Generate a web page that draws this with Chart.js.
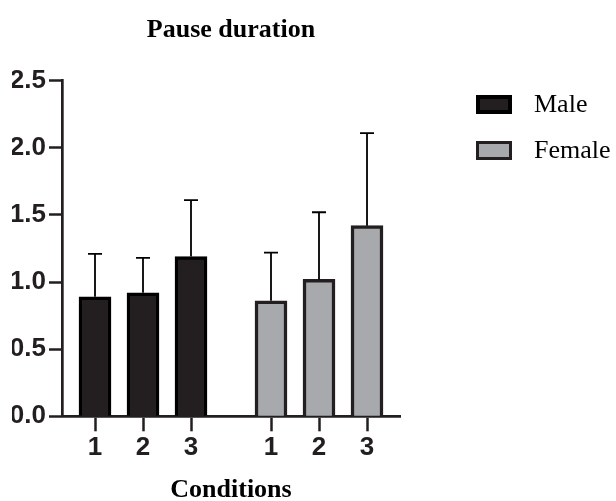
<!DOCTYPE html>
<html>
<head>
<meta charset="utf-8">
<script src="https://cdn.jsdelivr.net/npm/chart.js@4.4.1/dist/chart.umd.min.js"></script>
<style>
  body { margin: 0; background: #fff; }
  #wrap { position: relative; width: 616px; height: 501px; }
  #legend { position: absolute; left: 476px; top: 88px; font-family: "Liberation Serif", "Times New Roman", serif; font-size: 26px; color: #000; }
  .item { display: flex; align-items: center; height: 32px; margin-bottom: 14px; }
  .swatch { box-sizing: border-box; width: 36px; height: 19px; margin-right: 22px; }
</style>
</head>
<body>
<div id="wrap">
  <canvas id="chart" width="616" height="501"></canvas>
  <div id="legend"></div>
</div>
<script>
// values (mean and upper error of each bar)
const conditions = ["1", "2", "3"];
const groups = ["Male", "Female"];
const maleMeans = [0.89, 0.92, 1.19];
const maleSD = [0.32, 0.26, 0.42];
const femaleMeans = [0.86, 1.02, 1.42];
const femaleSD = [0.36, 0.50, 0.69];
const yTicks = [0, 0.5, 1, 1.5, 2, 2.5];

// layout of the two groups on the x axis (one unit per bar slot)
const groupStart = [1, 4 + 2 / 3];
const xMin = 0.3125;
const xMax = 7.354;

const axisFont = { family: "'Liberation Sans', Arial, sans-serif", size: 26, weight: "bold" };
const serifFont = "'Liberation Serif', 'Times New Roman', serif";

function toPoints(means, g) {
    return means.map((v, i) => ({ x: groupStart[g] + i, y: v }));
}

const tickPositions = [];
groupStart.forEach(s => conditions.forEach((c, i) => tickPositions.push(s + i)));

// upward-only error bars drawn from the bar tops
const errorBars = {
    id: "errorBars",
    afterDatasetsDraw(chart) {
        const ctx = chart.ctx;
        const yScale = chart.scales.y;
        chart.data.datasets.forEach((ds, di) => {
            const meta = chart.getDatasetMeta(di);
            meta.data.forEach((bar, i) => {
                const top = yScale.getPixelForValue(ds.data[i].y + ds.errors[i]);
                ctx.save();
                ctx.strokeStyle = "#000";
                ctx.lineWidth = 1.8;
                ctx.beginPath();
                ctx.moveTo(bar.x, bar.y);
                ctx.lineTo(bar.x, top);
                ctx.moveTo(bar.x - 7, top);
                ctx.lineTo(bar.x + 7, top);
                ctx.stroke();
                ctx.restore();
            });
        });
    }
};

const chart = new Chart(document.getElementById("chart"), {
    type: "bar",
    data: {
        datasets: [
            {
                label: groups[0],
                data: toPoints(maleMeans, 0),
                errors: maleSD,
                backgroundColor: "#231f20",
                borderColor: "#000000",
                borderWidth: 3.5
            },
            {
                label: groups[1],
                data: toPoints(femaleMeans, 1),
                errors: femaleSD,
                backgroundColor: "#a7a9ac",
                borderColor: "#231f20",
                borderWidth: 3.5
            }
        ]
    },
    options: {
        responsive: false,
        animation: false,
        events: [],
        datasets: { bar: { grouped: false, barThickness: 32 } },
        layout: { padding: { left: 12, right: 216, top: 0, bottom: 0 } },
        plugins: {
            legend: { display: false },
            tooltip: { enabled: false },
            title: {
                display: true,
                text: "Pause duration",
                fullSize: false,
                color: "#000",
                font: { family: serifFont, size: 26, weight: "bold", lineHeight: 1.2 },
                padding: { top: 14.4, bottom: 35.1 }
            }
        },
        scales: {
            x: {
                type: "linear",
                min: xMin,
                max: xMax,
                offset: false,
                afterBuildTicks: scale => {
                    scale.ticks = tickPositions.map(v => ({ value: v }));
                },
                ticks: {
                    color: "#231f20",
                    font: axisFont,
                    padding: 1,
                    maxRotation: 0,
                    autoSkip: false,
                    callback: (value, index) => conditions[index % conditions.length]
                },
                grid: { offset: false, drawOnChartArea: false, drawTicks: true, tickLength: 15, tickWidth: 2.5, tickColor: "#231f20" },
                border: { display: true, color: "#231f20", width: 2.7 },
                title: {
                    display: true,
                    text: "Conditions",
                    color: "#000",
                    font: { family: serifFont, size: 26, weight: "bold", lineHeight: 0.8 },
                    padding: { top: 15.7, bottom: 0 }
                }
            },
            y: {
                min: yTicks[0],
                max: yTicks[yTicks.length - 1],
                afterBuildTicks: scale => {
                    scale.ticks = yTicks.map(v => ({ value: v }));
                },
                afterFit: scale => {
                    scale.width = 50;
                },
                ticks: {
                    color: "#231f20",
                    font: axisFont,
                    padding: 3,
                    callback: v => v.toFixed(1)
                },
                grid: { drawOnChartArea: false, drawTicks: true, tickLength: 13, tickWidth: 2.5, tickColor: "#231f20" },
                border: { display: true, color: "#231f20", width: 2.7 }
            }
        }
    },
    plugins: [errorBars]
});

// legend built from the chart's own dataset styles
const legendEl = document.getElementById("legend");
chart.data.datasets.forEach((ds, i) => {
    const item = document.createElement("div");
    item.className = "item";
    const sw = document.createElement("span");
    sw.className = "swatch";
    sw.style.background = ds.backgroundColor;
    sw.style.border = (i === 0 ? 4 : 3) + "px solid " + ds.borderColor;
    const txt = document.createElement("span");
    txt.textContent = ds.label;
    item.appendChild(sw);
    item.appendChild(txt);
    legendEl.appendChild(item);
});
</script>
</body>
</html>
